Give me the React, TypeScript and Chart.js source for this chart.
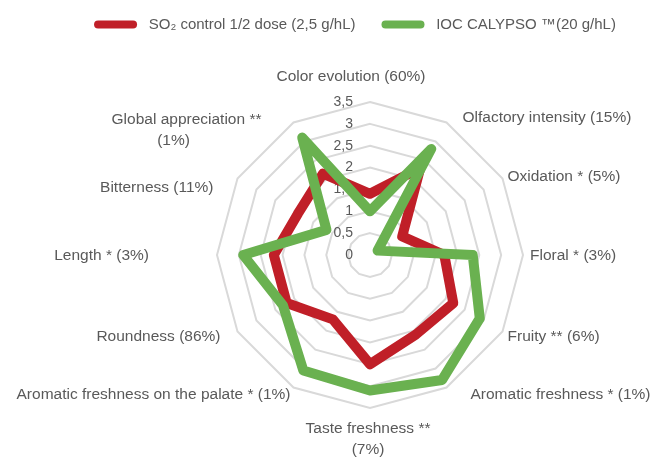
import React, { useEffect, useRef } from 'react';
import { Chart, registerables } from 'chart.js';

Chart.register(...registerables);

// ---- Data ----
const categories: (string | string[])[] = [
  'Color evolution (60%)',
  'Olfactory intensity (15%)',
  'Oxidation * (5%)',
  'Floral * (3%)',
  'Fruity ** (6%)',
  'Aromatic freshness * (1%)',
  ['Taste freshness **', '(7%)'],
  'Aromatic freshness on the palate * (1%)',
  'Roundness (86%)',
  'Length * (3%)',
  'Bitterness (11%)',
  ['Global appreciation **', '(1%)'],
];

const so2Values = [1.4, 2.3, 0.85, 1.7, 2.2, 2.1, 2.5, 1.7, 2.2, 2.2, 1.9, 2.15];
const calypsoValues = [1.0, 2.8, 0.2, 2.35, 2.9, 3.3, 3.1, 3.05, 2.3, 2.9, 1.15, 3.1];

const seriesNames = ['SO\u2082 control 1/2 dose (2,5 g/hL)', 'IOC CALYPSO \u2122(20 g/hL)'];

const scaleMin = 0;
const scaleMax = 3.5;
const scaleStep = 0.5;

// ---- Styles / layout ----
const FONT = '"Liberation Sans", Arial, sans-serif';
const TEXT = '#595959';
const RED = '#C01F28';
const GREEN = '#6AB150';

const CENTER_X = 370;
const CENTER_Y = 255;
const RADIUS = 153;

const labelPlacement: { align: CanvasTextAlign; dx: number; dy: number; dx2?: number }[] = [
  { align: 'center', dx: -19, dy: -25 },
  { align: 'left', dx: 16, dy: -5 },
  { align: 'left', dx: 5, dy: -2 },
  { align: 'left', dx: 7, dy: 1 },
  { align: 'left', dx: 5, dy: 5 },
  { align: 'left', dx: 24, dy: 7 },
  { align: 'center', dx: -2, dy: 21 },
  { align: 'right', dx: -3, dy: 7 },
  { align: 'right', dx: -17, dy: 5 },
  { align: 'right', dx: -68, dy: 1 },
  { align: 'right', dx: -24, dy: 9 },
  { align: 'center', dx: -107, dy: -3, dx2: -120 },
];

const radarText = {
  id: 'radarText',
  beforeDatasetsDraw(chart: any) {
    const s = chart.scales.r;
    const ctx: CanvasRenderingContext2D = chart.ctx;
    ctx.save();
    ctx.fillStyle = TEXT;
    ctx.font = `14px ${FONT}`;
    ctx.textAlign = 'right';
    ctx.textBaseline = 'middle';
    s.ticks.forEach((t: any) => {
      const d = s.getDistanceFromCenterForValue(t.value);
      ctx.fillText(String(t.value).replace('.', ','), s.xCenter - 17, s.yCenter - d);
    });
    ctx.font = `15.5px ${FONT}`;
    (chart.data.labels as (string | string[])[]).forEach((lab, i) => {
      const p = s.getPointPosition(i, s.drawingArea);
      const pl = labelPlacement[i];
      ctx.textAlign = pl.align;
      const lines = Array.isArray(lab) ? lab : [lab];
      lines.forEach((ln, k) => {
        const dx = k > 0 && pl.dx2 !== undefined ? pl.dx2 : pl.dx;
        ctx.fillText(ln, p.x + dx, p.y + pl.dy + k * 21);
      });
    });
    ctx.restore();
  },
};

export default function App() {
  const ref = useRef<HTMLCanvasElement>(null);
  useEffect(() => {
    document.body.style.margin = '0';
    const chart = new Chart(ref.current as HTMLCanvasElement, {
      type: 'radar',
      data: {
        labels: categories,
        datasets: [
          {
            label: seriesNames[0],
            data: so2Values,
            borderColor: RED,
            backgroundColor: 'transparent',
            borderWidth: 10,
            borderJoinStyle: 'round',
            pointRadius: 0,
            fill: false,
            order: 1,
          },
          {
            label: seriesNames[1],
            data: calypsoValues,
            borderColor: GREEN,
            backgroundColor: 'transparent',
            borderWidth: 10,
            borderJoinStyle: 'round',
            pointRadius: 0,
            fill: false,
            order: 0,
          },
        ],
      },
      options: {
        responsive: false,
        animation: false,
        layout: { padding: { left: 56, top: -9, right: 0, bottom: 0 } },
        plugins: {
          tooltip: { enabled: false },
          legend: {
            position: 'top',
            labels: {
              boxWidth: 43,
              boxHeight: 8,
              useBorderRadius: true,
              padding: 26,
              color: TEXT,
              font: { family: FONT, size: 15 },
              generateLabels: (c: any) =>
                c.data.datasets.map((ds: any, i: number) => ({
                  text: ' ' + ds.label,
                  fillStyle: ds.borderColor,
                  strokeStyle: ds.borderColor,
                  lineWidth: 0,
                  borderRadius: 4,
                  hidden: false,
                  datasetIndex: i,
                  fontColor: TEXT,
                })),
            },
          },
        },
        scales: {
          r: {
            min: scaleMin,
            max: scaleMax,
            ticks: { stepSize: scaleStep, display: false },
            pointLabels: { display: false },
            angleLines: { display: false },
            grid: { color: '#d9d9d9', lineWidth: 2 },
            afterFit: (scale: any) => {
              scale.xCenter = CENTER_X;
              scale.yCenter = CENTER_Y;
              scale.drawingArea = RADIUS;
            },
          },
        },
      } as any,
      plugins: [radarText],
    });
    return () => chart.destroy();
  }, []);
  return (
    <div style={{ width: 654, height: 457 }}>
      <canvas ref={ref} width={654} height={457} />
    </div>
  );
}
